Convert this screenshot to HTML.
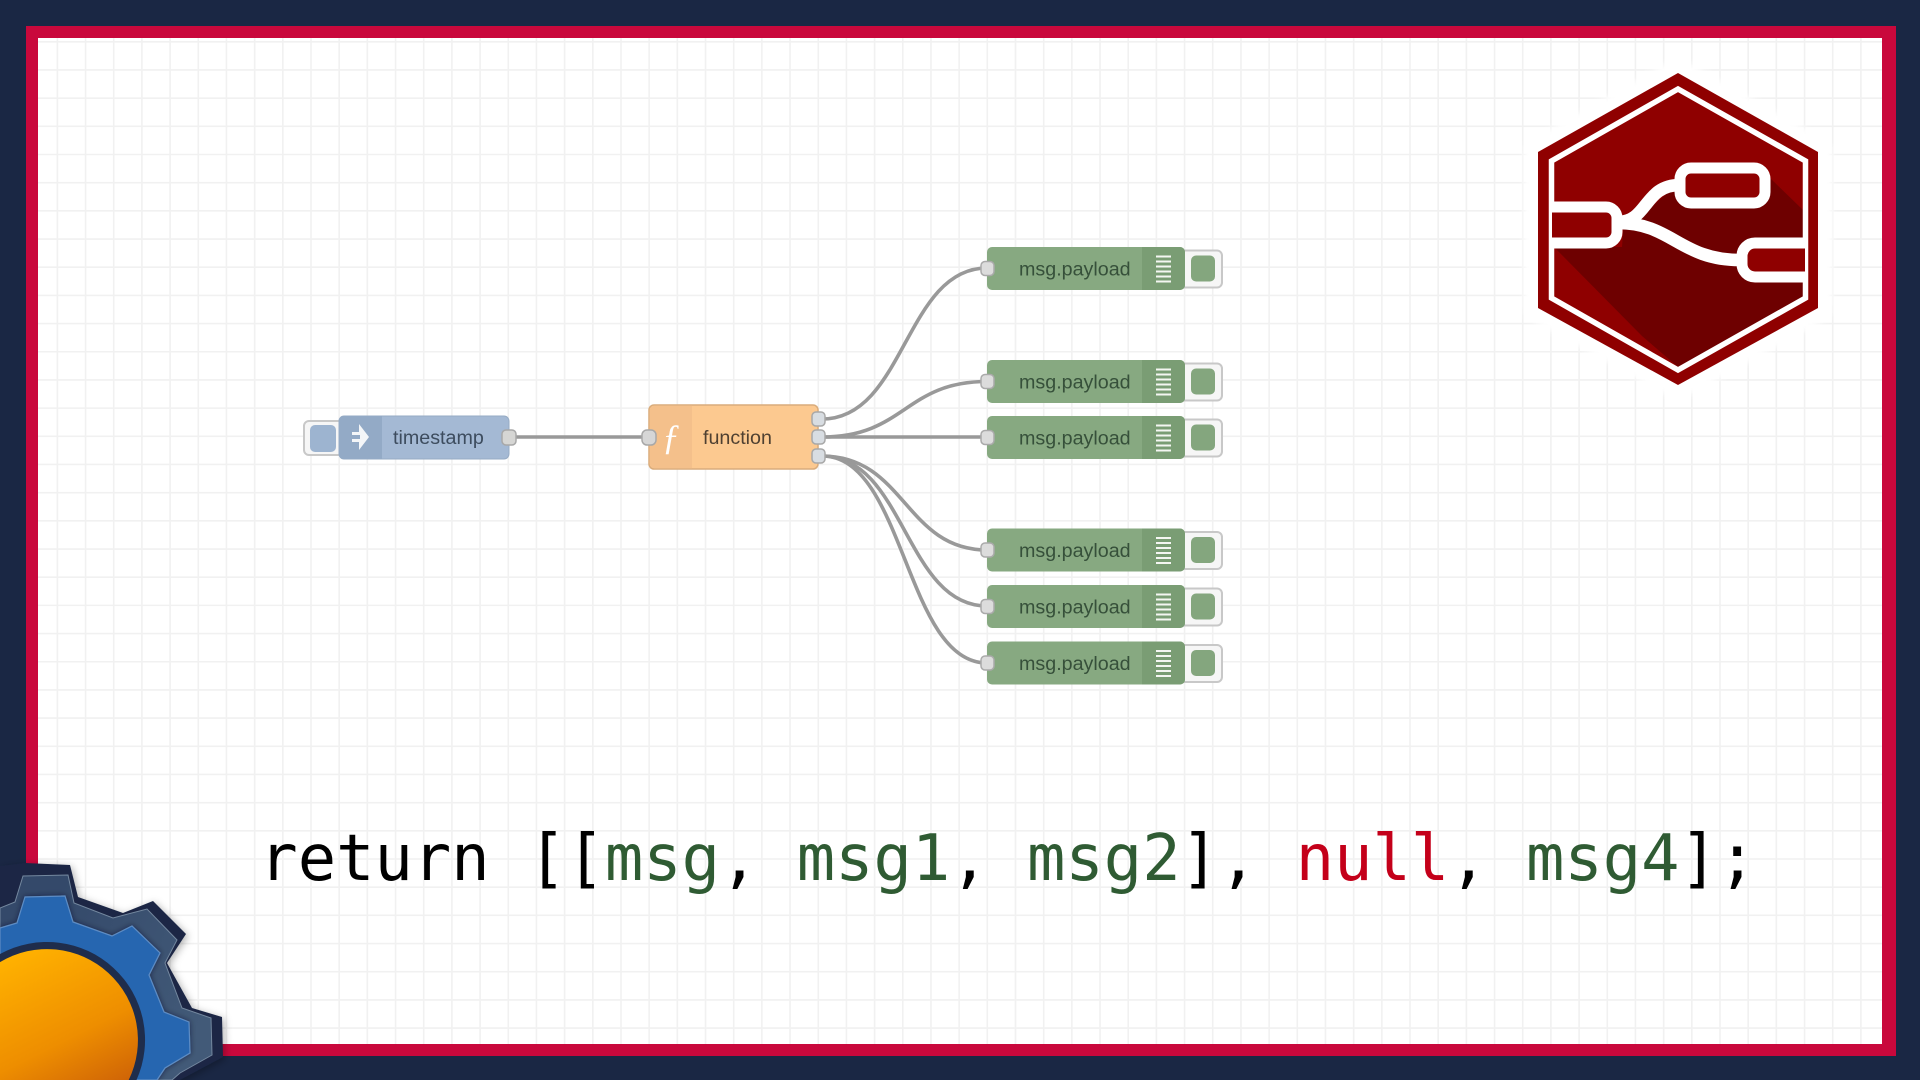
<!DOCTYPE html>
<html><head><meta charset="utf-8"><title>Node-RED function multiple outputs</title>
<style>html,body{margin:0;padding:0;width:1920px;height:1080px;overflow:hidden;background:#1a2744}svg{display:block}</style></head>
<body>
<svg xmlns="http://www.w3.org/2000/svg" width="1920" height="1080" viewBox="0 0 1920 1080">
<defs>
<linearGradient id="orange" gradientUnits="userSpaceOnUse" x1="25" y1="950" x2="105" y2="1110"><stop offset="0" stop-color="#ffb100"/><stop offset="0.55" stop-color="#ee8e00"/><stop offset="1" stop-color="#c85a08"/></linearGradient>
<linearGradient id="mid" gradientUnits="userSpaceOnUse" x1="40" y1="940" x2="210" y2="1010"><stop offset="0" stop-color="#34496a"/><stop offset="1" stop-color="#425a78"/></linearGradient>
<filter id="sh" x="-20%" y="-20%" width="140%" height="140%"><feDropShadow dx="2" dy="2" stdDeviation="4" flood-color="#000" flood-opacity="0.3"/></filter>
<filter id="bl" x="-10%" y="-10%" width="120%" height="120%"><feDropShadow dx="0" dy="0" stdDeviation="3" flood-color="#0c1528" flood-opacity="0.55"/></filter>
<filter id="soft" x="-10%" y="-10%" width="120%" height="120%"><feGaussianBlur stdDeviation="3"/></filter>
</defs>
<rect width="1920" height="1080" fill="#1a2744"/>
<rect x="26" y="26" width="1870" height="1030" fill="#c9083c"/>
<rect x="38" y="38" width="1844" height="1006" fill="#fff"/>
<!-- grid -->
<path d="M38 541H1882" fill="none" stroke="#f1f1f1" stroke-width="1006" stroke-dasharray="1.6 26.58" stroke-dashoffset="9.600"/>
<path d="M960 38V1044" fill="none" stroke="#f1f1f1" stroke-width="1844" stroke-dasharray="1.6 26.58" stroke-dashoffset="25.200"/>

<!-- wires -->
<g fill="none" stroke="#999" stroke-width="3.600">
<path d="M516 437H645"/>
<path d="M822 419C905 419 905 268 987 268"/>
<path d="M822 437C905 437 905 381.500 987 381.500"/>
<path d="M822 437H987"/>
<path d="M822 456C905 456 905 550 987 550"/>
<path d="M822 456C905 456 905 606 987 606"/>
<path d="M822 456C905 456 905 663 987 663"/>
</g>

<!-- timestamp -->
<rect x="304" y="421" width="45" height="34" rx="5" fill="#f6f6f6" stroke="#c8c8c8" stroke-width="2"/>
<rect x="310" y="425" width="26" height="27" rx="5" fill="#9db4d0"/>
<rect x="339" y="416" width="170" height="43" rx="5" fill="#a4b9d4" stroke="#96abc4" stroke-width="1"/>
<path d="M344 416H382V459H344a5 5 0 0 1-5-5V421a5 5 0 0 1 5-5z" fill="#93aac6"/>
<path d="M352 432h7v-8l10 13-10 13v-8h-7v-3h8v-4h-8z" fill="#f4f6f8"/>
<rect x="345" y="435" width="14" height="4" fill="#93aac6"/>
<text x="393" y="444" font-family="Liberation Sans, sans-serif" font-size="19.700" fill="#3d4c5e">timestamp</text>
<rect x="502" y="430" width="14" height="15" rx="4" fill="#d6d6d4" stroke="#a8a8a8" stroke-width="1.500"/>

<!-- function -->
<rect x="649" y="405" width="169" height="64" rx="5" fill="#fcc990" stroke="#d9ac7c" stroke-width="1.500"/>
<path d="M654 405.800H692V468.200H654a5 5 0 0 1-4.200-5V410.800a5 5 0 0 1 4.200-5z" fill="#f4c08b"/>
<text x="671" y="449" font-family="Liberation Serif, serif" font-style="italic" font-size="36" fill="#fff" text-anchor="middle">ƒ</text>
<text x="703" y="444" font-family="Liberation Sans, sans-serif" font-size="19.700" fill="#4f4031">function</text>
<rect x="642" y="430" width="14" height="15" rx="5" fill="#d6d6d6" stroke="#a8a8a8" stroke-width="1.500"/>
<rect x="812" y="412" width="13" height="14" rx="4" fill="#d8dde2" stroke="#a8a8a8" stroke-width="1.500"/>
<rect x="812" y="430" width="13" height="14" rx="4" fill="#d8dde2" stroke="#a8a8a8" stroke-width="1.500"/>
<rect x="812" y="449" width="13" height="14" rx="4" fill="#d8dde2" stroke="#a8a8a8" stroke-width="1.500"/>

<!-- debug nodes -->
<g transform="translate(0,268.500)">
<rect x="1176" y="-18" width="46" height="37" rx="5" fill="#f6f6f6" stroke="#c8c8c8" stroke-width="2"/>
<rect x="1191" y="-13" width="24" height="26" rx="5" fill="#84a67e"/>
<rect x="987" y="-21.500" width="198" height="43" rx="5" fill="#87a981"/>
<path d="M1142-21.500H1180a5 5 0 0 1 5 5V16.500a5 5 0 0 1-5 5H1142z" fill="#7a9d74"/>
<path d="M1156-12h15M1156-7h15M1156-2h15M1156 3h15M1156 8h15M1156 13h15" stroke="#f4f6f2" stroke-width="2"/>
<rect x="981" y="-7" width="13" height="14" rx="4" fill="#dcdcdc" stroke="#aaa" stroke-width="1.500"/>
<text x="1019" y="7" font-family="Liberation Sans, sans-serif" font-size="19.700" fill="#36503a">msg.payload</text>
</g>
<g transform="translate(0,381.500)">
<rect x="1176" y="-18" width="46" height="37" rx="5" fill="#f6f6f6" stroke="#c8c8c8" stroke-width="2"/>
<rect x="1191" y="-13" width="24" height="26" rx="5" fill="#84a67e"/>
<rect x="987" y="-21.500" width="198" height="43" rx="5" fill="#87a981"/>
<path d="M1142-21.500H1180a5 5 0 0 1 5 5V16.500a5 5 0 0 1-5 5H1142z" fill="#7a9d74"/>
<path d="M1156-12h15M1156-7h15M1156-2h15M1156 3h15M1156 8h15M1156 13h15" stroke="#f4f6f2" stroke-width="2"/>
<rect x="981" y="-7" width="13" height="14" rx="4" fill="#dcdcdc" stroke="#aaa" stroke-width="1.500"/>
<text x="1019" y="7" font-family="Liberation Sans, sans-serif" font-size="19.700" fill="#36503a">msg.payload</text>
</g>
<g transform="translate(0,437.500)">
<rect x="1176" y="-18" width="46" height="37" rx="5" fill="#f6f6f6" stroke="#c8c8c8" stroke-width="2"/>
<rect x="1191" y="-13" width="24" height="26" rx="5" fill="#84a67e"/>
<rect x="987" y="-21.500" width="198" height="43" rx="5" fill="#87a981"/>
<path d="M1142-21.500H1180a5 5 0 0 1 5 5V16.500a5 5 0 0 1-5 5H1142z" fill="#7a9d74"/>
<path d="M1156-12h15M1156-7h15M1156-2h15M1156 3h15M1156 8h15M1156 13h15" stroke="#f4f6f2" stroke-width="2"/>
<rect x="981" y="-7" width="13" height="14" rx="4" fill="#dcdcdc" stroke="#aaa" stroke-width="1.500"/>
<text x="1019" y="7" font-family="Liberation Sans, sans-serif" font-size="19.700" fill="#36503a">msg.payload</text>
</g>
<g transform="translate(0,550)">
<rect x="1176" y="-18" width="46" height="37" rx="5" fill="#f6f6f6" stroke="#c8c8c8" stroke-width="2"/>
<rect x="1191" y="-13" width="24" height="26" rx="5" fill="#84a67e"/>
<rect x="987" y="-21.500" width="198" height="43" rx="5" fill="#87a981"/>
<path d="M1142-21.500H1180a5 5 0 0 1 5 5V16.500a5 5 0 0 1-5 5H1142z" fill="#7a9d74"/>
<path d="M1156-12h15M1156-7h15M1156-2h15M1156 3h15M1156 8h15M1156 13h15" stroke="#f4f6f2" stroke-width="2"/>
<rect x="981" y="-7" width="13" height="14" rx="4" fill="#dcdcdc" stroke="#aaa" stroke-width="1.500"/>
<text x="1019" y="7" font-family="Liberation Sans, sans-serif" font-size="19.700" fill="#36503a">msg.payload</text>
</g>
<g transform="translate(0,606.500)">
<rect x="1176" y="-18" width="46" height="37" rx="5" fill="#f6f6f6" stroke="#c8c8c8" stroke-width="2"/>
<rect x="1191" y="-13" width="24" height="26" rx="5" fill="#84a67e"/>
<rect x="987" y="-21.500" width="198" height="43" rx="5" fill="#87a981"/>
<path d="M1142-21.500H1180a5 5 0 0 1 5 5V16.500a5 5 0 0 1-5 5H1142z" fill="#7a9d74"/>
<path d="M1156-12h15M1156-7h15M1156-2h15M1156 3h15M1156 8h15M1156 13h15" stroke="#f4f6f2" stroke-width="2"/>
<rect x="981" y="-7" width="13" height="14" rx="4" fill="#dcdcdc" stroke="#aaa" stroke-width="1.500"/>
<text x="1019" y="7" font-family="Liberation Sans, sans-serif" font-size="19.700" fill="#36503a">msg.payload</text>
</g>
<g transform="translate(0,663)">
<rect x="1176" y="-18" width="46" height="37" rx="5" fill="#f6f6f6" stroke="#c8c8c8" stroke-width="2"/>
<rect x="1191" y="-13" width="24" height="26" rx="5" fill="#84a67e"/>
<rect x="987" y="-21.500" width="198" height="43" rx="5" fill="#87a981"/>
<path d="M1142-21.500H1180a5 5 0 0 1 5 5V16.500a5 5 0 0 1-5 5H1142z" fill="#7a9d74"/>
<path d="M1156-12h15M1156-7h15M1156-2h15M1156 3h15M1156 8h15M1156 13h15" stroke="#f4f6f2" stroke-width="2"/>
<rect x="981" y="-7" width="13" height="14" rx="4" fill="#dcdcdc" stroke="#aaa" stroke-width="1.500"/>
<text x="1019" y="7" font-family="Liberation Sans, sans-serif" font-size="19.700" fill="#36503a">msg.payload</text>
</g>

<!-- logo -->
<polygon points="1678,73 1818,152 1818,308 1678,385 1538,308 1538,152" fill="#fff" stroke="#fff" stroke-width="28" stroke-linejoin="round" filter="url(#soft)"/>
<polygon points="1678,73 1818,152 1818,308 1678,385 1538,308 1538,152" fill="#8f0000"/>
<polygon points="1554,247 1622,247 1624,218 1648,210 1680,182 1770,178 1803,210 1803,298 1678,367 1642,336" fill="#6e0000"/>
<polygon points="1678,89 1805.500,161 1805.500,298 1678,370 1551.500,298 1551.500,161" fill="none" stroke="#fff" stroke-width="5.500" stroke-linejoin="miter"/>
<g fill="none" stroke="#fff">
<path d="M1618 222C1648 222 1644 185 1680 185" stroke-width="12.500"/>
<path d="M1618 223C1672 223 1680 260 1740 260" stroke-width="12.500"/>
<path d="M1552 207H1606a11 11 0 0 1 11 11V232a11 11 0 0 1-11 11H1552" fill="#8f0000" stroke-width="11"/>
<path d="M1805 243H1755a13 13 0 0 0-13 13V264a13 13 0 0 0 13 13H1805" fill="#8f0000" stroke-width="11"/>
<rect x="1680" y="168" width="85" height="35" rx="11" fill="#8f0000" stroke-width="11"/>
</g>

<!-- code -->
<text x="259.400" y="880" font-family="DejaVu Sans Mono, monospace" font-size="63.750" xml:space="preserve" fill="#000">return [[<tspan fill="#2f5b33">msg</tspan>, <tspan fill="#2f5b33">msg1</tspan>, <tspan fill="#2f5b33">msg2</tspan>], <tspan fill="#c4001a">null</tspan>, <tspan fill="#2f5b33">msg4</tspan>];</text>

<!-- gear -->
<polygon filter="url(#sh)" points="0,866 25,863 70,865 78,897 123,913 153,901 186,934 167,963 192,1008 222,1017 223,1057 180,1080 0,1080" fill="#1a2744"/>
<polygon points="0,908 15,902 23,876 68,875 74,903 113,918 147,909 177,940 165,963 182,1008 211,1018 212,1055 180,1073 172,1080 0,1080" fill="url(#mid)" stroke="#74889f" stroke-width="1"/>
<polygon filter="url(#bl)" points="0,928 17,923 25,897 65,896 73,922 112,936 132,926 160,953 149,975 164,1012 189,1022 190,1053 165,1068 157,1080 0,1080" fill="#2866b0" stroke="#5d8cc4" stroke-width="1.200"/>
<path d="M0 954A98 98 0 0 1 136.500 1080H0Z" fill="#1f2d4c"/>
<path d="M0 962.100A91 91 0 0 1 128.700 1080H0Z" fill="url(#orange)"/>
</svg>
</body></html>
